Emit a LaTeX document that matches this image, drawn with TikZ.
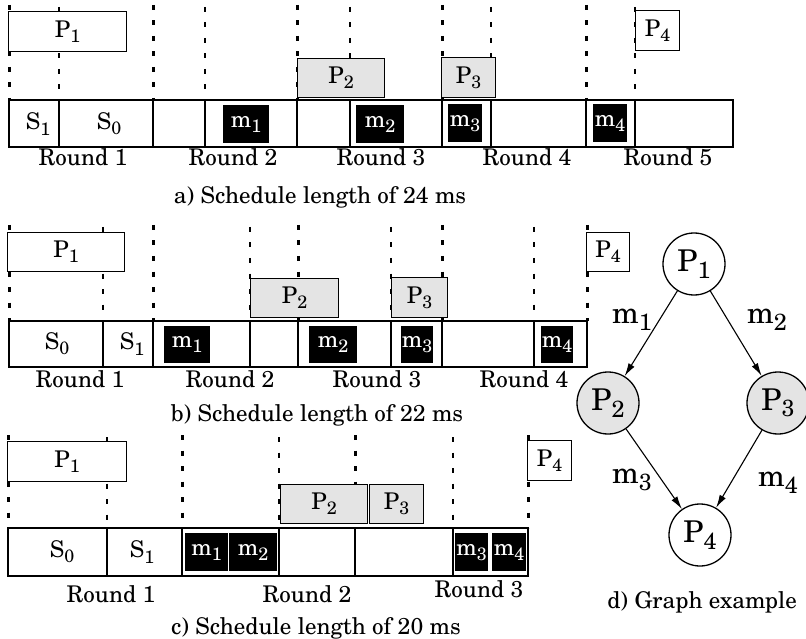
\documentclass[tikz,border=0pt]{standalone}
\usepackage{fontspec}
\setmainfont{TeX Gyre Schola}
\usetikzlibrary{arrows.meta}
\definecolor{procgray}{HTML}{E4E4E4}
\newcommand\sbs[1]{\raisebox{-0.22em}{\scalebox{0.78}{#1}}}
\begin{document}
\begin{tikzpicture}[x=1pt,y=-1pt,
  thk/.style={line width=3pt, dash pattern=on 5pt off 10.5pt},
  thn/.style={line width=1.6pt, dash pattern=on 5pt off 10.5pt},
  rb/.style={line width=2.6pt},
  sb/.style={line width=1.1pt},
  bar/.style={line width=1.3pt},
  pbox/.style={draw, line width=1.3pt, fill=white, anchor=north west, inner sep=0pt, font=\fontsize{23}{26}\selectfont},
  gbox/.style={pbox, fill=procgray},
  mbox/.style={fill=black, text=white, anchor=north west, inner sep=0pt, font=\fontsize{23}{26}\selectfont},
  txt/.style={font=\fontsize{23}{26}\selectfont, inner sep=0pt, anchor=base},
  cell/.style={font=\fontsize{23}{26}\selectfont, inner sep=0pt},
  gnode/.style={circle, draw, line width=1.3pt, minimum size=62pt, inner sep=0pt, fill=white, font=\fontsize{30}{34}\selectfont},
  gnodeg/.style={gnode, fill=procgray},
  edge/.style={line width=1.1pt, -{Latex[length=13pt,width=7pt]}},
  elbl/.style={font=\fontsize{30}{34}\selectfont, inner sep=0pt}
]
\useasboundingbox (0,0) rectangle (806,639);

% ---------------- panel a ----------------
\foreach \x in {9,153,297,442,586} \draw[thk] (\x,5) -- (\x,100);
\foreach \x in {59,205,350,491,635} \draw[thn] (\x,7) -- (\x,100);
\draw[bar] (9,100) rectangle (733,147);
\foreach \x in {9,153,297,442,586} \draw[rb] (\x,100) -- (\x,147);
\foreach \x in {59,205,350,491,635} \draw[sb] (\x,100) -- (\x,147);
\node[pbox, minimum width=118pt, minimum height=40pt] (aP1) at (8,11) {P\sbs{1}};
\node[gbox, minimum width=87pt, minimum height=39pt] (aP2) at (297,58) {P\sbs{2}};
\node[gbox, minimum width=54pt, minimum height=40pt] (aP3) at (441,57) {P\sbs{3}};
\node[pbox, minimum width=44pt, minimum height=40pt] (aP4) at (635,10) {P\sbs{4}};
\node[mbox, minimum width=46pt, minimum height=38pt] (am1) at (223,105) {m\sbs{1}};
\node[mbox, minimum width=48pt, minimum height=38pt] (am2) at (356,105) {m\sbs{2}};
\node[mbox, minimum width=34pt, minimum height=38pt] (am3) at (448,104) {m\sbs{3}};
\node[mbox, minimum width=34pt, minimum height=38pt] (am4) at (593,104) {m\sbs{4}};
\node[cell] (aS1) at (38,124) {S\sbs{1}};
\node[cell] (aS0) at (109,124) {S\sbs{0}};
\node[txt] (aR1) at (83,166) {Round 1};
\node[txt] (aR2) at (233,166) {Round 2};
\node[txt] (aR3) at (381,166) {Round 3};
\node[txt] (aR4) at (527,166) {Round 4};
\node[txt] (aR5) at (668,166) {Round 5};
\node[txt] (acap) at (320,204) {a) Schedule length of 24 ms};

% ---------------- panel b ----------------
\foreach \x in {9,153,298,442,587} \draw[thk] (\x,225) -- (\x,321);
\foreach \x in {103,250,391,534} \draw[thn] (\x,227) -- (\x,321);
\draw[bar] (9,321) rectangle (587,367);
\foreach \x in {9,153,298,442,587} \draw[rb] (\x,321) -- (\x,367);
\foreach \x in {103,250,391,534} \draw[sb] (\x,321) -- (\x,367);
\node[pbox, minimum width=117pt, minimum height=39pt] (bP1) at (7,232) {P\sbs{1}};
\node[gbox, minimum width=88pt, minimum height=39pt] (bP2) at (250,278) {P\sbs{2}};
\node[gbox, minimum width=56pt, minimum height=40pt] (bP3) at (391,277) {P\sbs{3}};
\node[pbox, minimum width=43pt, minimum height=39pt] (bP4) at (586,232) {P\sbs{4}};
\node[mbox, minimum width=46pt, minimum height=37pt] (bm1) at (164,326) {m\sbs{1}};
\node[mbox, minimum width=48pt, minimum height=37pt] (bm2) at (309,326) {m\sbs{2}};
\node[mbox, minimum width=32pt, minimum height=37pt] (bm3) at (401,326) {m\sbs{3}};
\node[mbox, minimum width=32pt, minimum height=37pt] (bm4) at (541,326) {m\sbs{4}};
\node[cell] (bS0) at (57,344) {S\sbs{0}};
\node[cell] (bS1) at (132,344) {S\sbs{1}};
\node[txt] (bR1) at (80,387) {Round 1};
\node[txt] (bR2) at (230,387) {Round 2};
\node[txt] (bR3) at (377,387) {Round 3};
\node[txt] (bR4) at (524,387) {Round 4};
\node[txt] (bcap) at (317,421) {b) Schedule length of 22 ms};

% ---------------- panel c ----------------
\foreach \x in {8,182,355,528} \draw[thk] (\x,435) -- (\x,528);
\foreach \x in {107,279,453} \draw[thn] (\x,437) -- (\x,528);
\draw[bar] (8,528) rectangle (528,576);
\foreach \x in {8,182,355,528} \draw[rb] (\x,528) -- (\x,576);
\foreach \x in {107,279,453} \draw[sb] (\x,528) -- (\x,576);
\node[pbox, minimum width=119pt, minimum height=40pt] (cP1) at (7,441) {P\sbs{1}};
\node[gbox, minimum width=87pt, minimum height=39pt] (cP2) at (280,484) {P\sbs{2}};
\node[gbox, minimum width=54pt, minimum height=39pt] (cP3) at (369,484) {P\sbs{3}};
\node[pbox, minimum width=44pt, minimum height=40pt] (cP4) at (527,440) {P\sbs{4}};
\node[mbox, minimum width=43pt, minimum height=38pt] (cm1) at (185,533) {m\sbs{1}};
\node[mbox, minimum width=48pt, minimum height=38pt] (cm2) at (229,533) {m\sbs{2}};
\node[mbox, minimum width=33pt, minimum height=38pt] (cm3) at (455,533) {m\sbs{3}};
\node[mbox, minimum width=34pt, minimum height=38pt] (cm4) at (492,533) {m\sbs{4}};
\node[cell] (cS0) at (62,552) {S\sbs{0}};
\node[cell] (cS1) at (142,552) {S\sbs{1}};
\node[txt] (cR1) at (111,602) {Round 1};
\node[txt] (cR2) at (307,602) {Round 2};
\node[txt] (cR3) at (479,597) {Round 3};
\node[txt] (ccap) at (316,634) {c) Schedule length of 20 ms};

% ---------------- panel d ----------------
\node[gnode] (g1) at (694,264) {P\sbs{1}};
\node[gnodeg] (g2) at (608,403) {P\sbs{2}};
\node[gnodeg] (g3) at (778,403) {P\sbs{3}};
\node[gnode] (g4) at (700,535) {P\sbs{4}};
\draw[edge] (g1) -- (g2);
\draw[edge] (g1) -- (g3);
\draw[edge] (g2) -- (g4);
\draw[edge] (g3) -- (g4);
\node[elbl] (lm1) at (632,320) {m\sbs{1}};
\node[elbl] (lm2) at (767,320) {m\sbs{2}};
\node[elbl] (lm3) at (632,480) {m\sbs{3}};
\node[elbl] (lm4) at (778,483) {m\sbs{4}};
\node[txt] (dcap) at (702,608) {d) Graph example};
\end{tikzpicture}
\end{document}
